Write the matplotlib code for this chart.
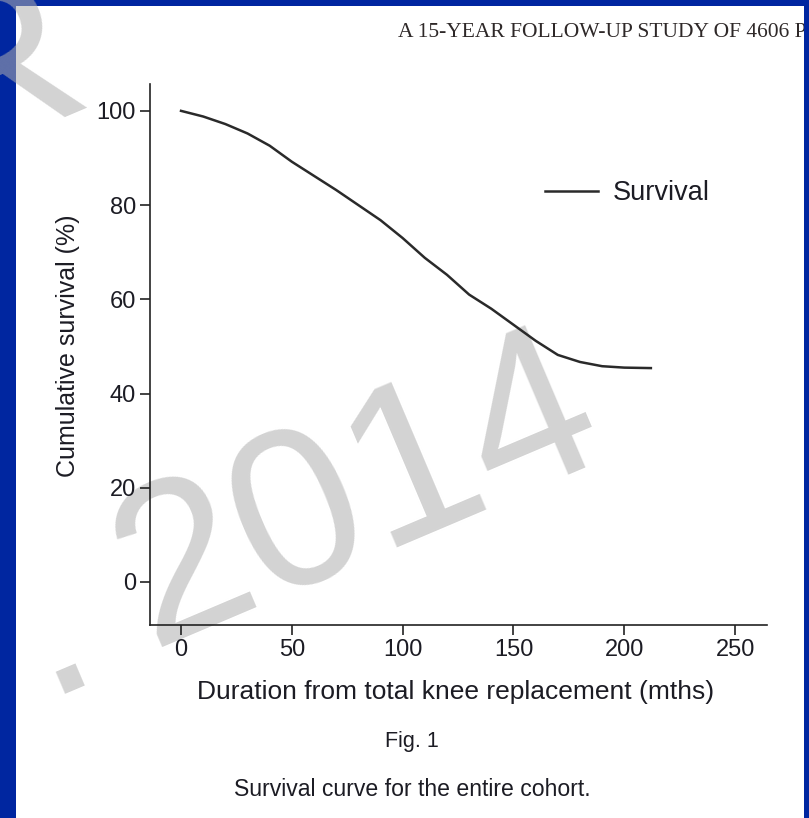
import matplotlib
matplotlib.use("Agg")
import matplotlib.pyplot as plt
from matplotlib.patches import Rectangle

# survival curve
months = [0, 10, 20, 30, 40, 50, 60, 70, 80, 90, 100, 110, 120, 130,
          140, 150, 160, 170, 180, 190, 200, 212]
survival = [100, 98.8, 97.2, 95.2, 92.6, 89.2, 86.2, 83.2, 80.0, 76.8, 73.0,
            68.8, 65.2, 61.0, 58.0, 54.6, 51.2, 48.2, 46.7, 45.8, 45.5, 45.4]
xticks = [0, 50, 100, 150, 200, 250]
yticks = [0, 20, 40, 60, 80, 100]

W, H = 809, 818
BLUE = "#0026a0"
TXT = "#1c1c24"
plt.rcParams["font.family"] = ["Liberation Sans", "DejaVu Sans"]

fig = plt.figure(figsize=(W / 100, H / 100), dpi=100)
fig.patch.set_facecolor(BLUE)


def px(x, y):
    return x / W, 1 - y / H


panel = Rectangle(px(16, 818), (804 - 16) / W, (818 - 6) / H,
                  transform=fig.transFigure, facecolor="white",
                  edgecolor="none", zorder=0)
fig.patches.append(panel)

# running header, cut by the right border
hdr = fig.text(*px(398, 37), "A 15-YEAR FOLLOW-UP STUDY OF 4606 PATIENTS",
               family="Liberation Serif", fontsize=15.5, color="#2e2828",
               ha="left", va="baseline", zorder=0.4)
hdr.set_clip_path(panel)

# watermark
wm = dict(color=(0.686, 0.686, 0.686), alpha=0.55, fontsize=162,
          rotation=23, rotation_mode="anchor", va="baseline", zorder=0.5)
fig.text(*px(381, 549), "2014", ha="center", **wm)
fig.text(*px(102, 670), ".", ha="right", **wm)
fig.text(*px(6, 698), "l", ha="right", **wm)
fig.text(*px(-54, 160), "R", ha="left", **wm)

ax = fig.add_axes([150 / W, 1 - 625 / H, (767 - 150) / W, (625 - 84) / H],
                  zorder=1)
ax.patch.set_alpha(0)
ax.plot(months, survival, color="#2a2a2a", lw=1.8, label="Survival")
ax.set_xlim(-14, 264.4)
ax.set_ylim(-9.13, 105.7)
ax.set_xticks(xticks)
ax.set_yticks(yticks)
for s in ["top", "right"]:
    ax.spines[s].set_visible(False)
for s in ["left", "bottom"]:
    ax.spines[s].set_linewidth(1.2)
    ax.spines[s].set_color("#222222")
ax.tick_params(length=7, width=1.2, color="#222222", pad=3,
               labelsize=17, labelcolor=TXT)

ax.set_ylabel("Cumulative survival (%)", fontsize=18, color=TXT)
ax.yaxis.label.set_va("center")
ax.yaxis.set_label_coords(-0.133, 0.516)
ax.set_xlabel("Duration from total knee replacement (mths)", fontsize=19,
              color=TXT)
ax.xaxis.label.set_va("center")
ax.xaxis.set_label_coords(0.496, -0.124)

leg = ax.legend(loc="center left", bbox_to_anchor=(0.640, 0.7985),
                frameon=False, fontsize=19.5, handlelength=1.96,
                handletextpad=0.55, borderpad=0, borderaxespad=0)
for t in leg.get_texts():
    t.set_color(TXT)

fig.text(*px(412, 742), "Fig. 1", fontsize=15.5, color=TXT,
         ha="center", va="center")
fig.text(*px(412, 790), "Survival curve for the entire cohort.",
         fontsize=16.6, color=TXT, ha="center", va="center")

fig.savefig("out.png", dpi=100, facecolor=fig.get_facecolor())
